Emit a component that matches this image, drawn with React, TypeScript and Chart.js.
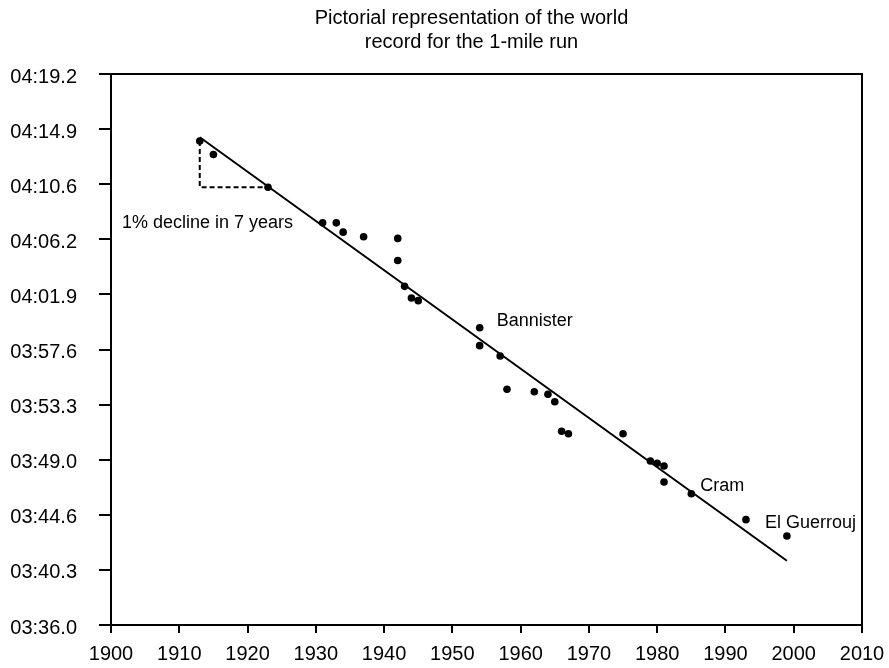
import React, { useEffect, useRef } from "react";
import { Chart, registerables } from "chart.js";

Chart.register(...registerables);

const titleLines = ["Pictorial representation of the world", "record for the 1-mile run"];

const years = [1913, 1915, 1923, 1931, 1933, 1934, 1937, 1942, 1942, 1943, 1944, 1945, 1954, 1954, 1957, 1958, 1962, 1964, 1965, 1966, 1967, 1975, 1979, 1980, 1981, 1981, 1985, 1993, 1999];
const recordSeconds = [253.94, 252.89, 250.32, 247.53, 247.53, 246.8, 246.44, 246.31, 244.58, 242.55, 241.64, 241.43, 239.31, 237.9, 237.09, 234.48, 234.29, 234.09, 233.5, 231.19, 231.0, 231.0, 228.86, 228.68, 228.47, 227.21, 226.29, 224.26, 222.98];

const trendYears = [1913, 1999];
const trendSeconds = [254.24, 221.04];

const declineYears = [1913, 1913, 1923];
const declineSeconds = [253.94, 250.32, 250.32];

const xTickValues = [1900, 1910, 1920, 1930, 1940, 1950, 1960, 1970, 1980, 1990, 2000, 2010];
const yTickValues = [216.0, 220.32, 224.64, 228.96, 233.28, 237.6, 241.92, 246.24, 250.56, 254.88, 259.2];

const annotationTexts = ["1% decline in 7 years", "Bannister", "Cram", "El Guerrouj"];
const annotationYears = [1901.6, 1956.5, 1986.3, 1995.8];
const annotationSeconds = [247.12, 239.44, 226.5, 223.6];

const FONT = '"Liberation Sans", Arial, Helvetica, sans-serif';

function fmt(v: number): string {
  const m = Math.floor(v / 60 + 1e-9);
  const s = v - m * 60;
  return String(m).padStart(2, "0") + ":" + s.toFixed(1).padStart(4, "0");
}

export default function App() {
  const ref = useRef<HTMLCanvasElement | null>(null);
  useEffect(() => {
    if (!ref.current) return;
    const extras = {
      id: "extras",
      afterDraw(chart: any) {
        const ctx = chart.ctx;
        const a = chart.chartArea;
        const xs = chart.scales.x;
        const ys = chart.scales.y;
        ctx.save();
        ctx.strokeStyle = "#000";
        ctx.lineWidth = 2;
        ctx.beginPath();
        ctx.moveTo(a.left, a.top);
        ctx.lineTo(a.right, a.top);
        ctx.lineTo(a.right, a.bottom);
        ctx.stroke();
        ctx.fillStyle = "#000";
        ctx.font = "20px " + FONT;
        ctx.textBaseline = "middle";
        // y tick labels
        ctx.textAlign = "right";
        yTickValues.forEach((v) => {
          ctx.fillText(fmt(v), a.left - 12 - 22, ys.getPixelForValue(v) + 3);
        });
        // x tick labels
        ctx.textAlign = "center";
        xTickValues.forEach((v) => {
          ctx.fillText(String(v), xs.getPixelForValue(v), a.bottom + 29);
        });
        // annotations
        ctx.font = "18px " + FONT;
        ctx.textAlign = "left";
        ctx.textBaseline = "alphabetic";
        annotationTexts.forEach((t, i) => {
          ctx.fillText(t, xs.getPixelForValue(annotationYears[i]), ys.getPixelForValue(annotationSeconds[i]));
        });
        // title
        ctx.font = "20px " + FONT;
        ctx.textAlign = "center";
        const cx = (a.left + a.right) / 2 - 15;
        titleLines.forEach((t, i) => {
          ctx.fillText(t, cx, 24 + i * 24);
        });
        ctx.restore();
      },
    };
    const chart = new Chart(ref.current, {
      type: "scatter",
      data: {
        datasets: [
          {
            data: years.map((y, i) => ({ x: y, y: recordSeconds[i] })),
            backgroundColor: "#000",
            borderColor: "#000",
            borderWidth: 0,
            pointRadius: 3.8,
            showLine: false,
          },
          {
            data: trendYears.map((y, i) => ({ x: y, y: trendSeconds[i] })),
            borderColor: "#000",
            borderWidth: 2,
            pointRadius: 0,
            showLine: true,
          },
          {
            data: declineYears.map((y, i) => ({ x: y, y: declineSeconds[i] })),
            borderColor: "#000",
            borderWidth: 2,
            borderDash: [5, 3],
            pointRadius: 0,
            showLine: true,
          },
        ],
      } as any,
      options: {
        animation: false,
        responsive: false,
        maintainAspectRatio: false,
        layout: { padding: { left: 0, right: 27, top: 74, bottom: 0 } },
        plugins: { legend: { display: false }, title: { display: false }, tooltip: { enabled: false } },
        scales: {
          x: {
            type: "linear",
            min: 1900,
            max: 2010,
            afterBuildTicks: (s: any) => { s.ticks = xTickValues.map((v) => ({ value: v })); },
            afterFit: (s: any) => { s.height = 43; },
            ticks: { display: false },
            grid: { drawOnChartArea: false, drawTicks: true, tickLength: 8, color: "#000", lineWidth: 2 },
            border: { color: "#000", width: 2 },
          },
          y: {
            type: "linear",
            min: 216,
            max: 259.2,
            afterBuildTicks: (s: any) => { s.ticks = yTickValues.map((v) => ({ value: v })); },
            afterFit: (s: any) => { s.width = 111; },
            ticks: { display: false },
            grid: { drawOnChartArea: false, drawTicks: true, tickLength: 12, color: "#000", lineWidth: 2 },
            border: { color: "#000", width: 2 },
          },
        },
      } as any,
      plugins: [extras],
    });
    return () => chart.destroy();
  }, []);
  return (
    <div style={{ position: "fixed", left: 0, top: 0, width: 889, height: 668, background: "#fff" }}>
      <canvas ref={ref} width={889} height={668} style={{ display: "block", width: 889, height: 668 }} />
    </div>
  );
}
